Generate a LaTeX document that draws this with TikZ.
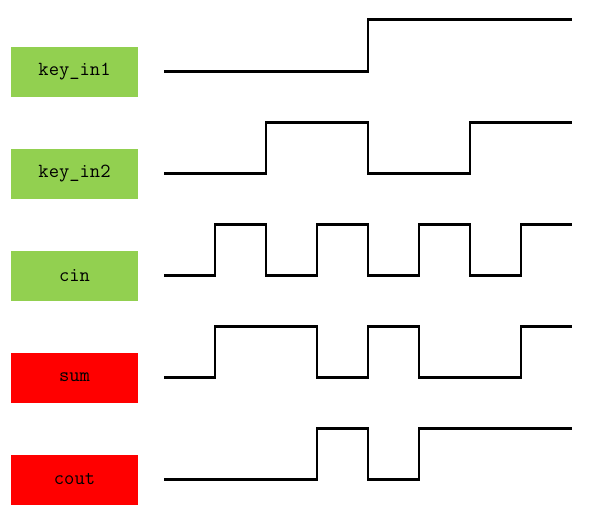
\documentclass[tikz,border=0pt]{standalone}
\usepackage{fontspec}
\usepackage{xcolor}
\usepackage{tikz}
\usetikzlibrary{positioning}
\definecolor{ingreen}{HTML}{92D050}
\tikzstyle{sig} = [rectangle, fill=ingreen, minimum width=95.25pt, minimum height=37.5pt, outer sep=0pt, inner sep=0pt, font=\ttfamily\fontsize{15}{17}\selectfont]
\tikzstyle{outsig} = [sig, fill=red]
\tikzstyle{wave} = [draw, line width=1.7pt, line join=miter]

\begin{document}
\begin{tikzpicture}[x=0.75pt, y=0.75pt, node distance=39pt]
    \useasboundingbox (0,0) rectangle (596,-525);
    \node [sig] (key1) at (74.5,-71.5) {key\_in1};
    \node [sig, below=of key1] (key2) {key\_in2};
    \node [sig, below=of key2] (cin) {cin};
    \node [outsig, below=of cin] (sum) {sum};
    \node [outsig, below=of sum] (cout) {cout};

    % waveforms, one step = 51px
    \path [wave] ([xshift=19.5pt]key1.east) -- ++(204,0) -- ++(0,52) -- ++(204,0);
    \path [wave] ([xshift=19.5pt]key2.east) -- ++(102,0) -- ++(0,51) -- ++(102,0) -- ++(0,-51)
        -- ++(102,0) -- ++(0,51) -- ++(102,0);
    \path [wave] ([xshift=19.5pt]cin.east) \foreach \i in {1,...,3} {
        -- ++(51,0) -- ++(0,51) -- ++(51,0) -- ++(0,-51)} -- ++(51,0) -- ++(0,51) -- ++(51,0);
    \path [wave] ([xshift=19.5pt]sum.east) -- ++(51,0) -- ++(0,51) -- ++(102,0) -- ++(0,-51)
        -- ++(51,0) -- ++(0,51) -- ++(51,0) -- ++(0,-51) -- ++(102,0) -- ++(0,51) -- ++(51,0);
    \path [wave] ([xshift=19.5pt]cout.east) -- ++(153,0) -- ++(0,51) -- ++(51,0) -- ++(0,-51)
        -- ++(51,0) -- ++(0,51) -- ++(153,0);
\end{tikzpicture}
\end{document}
